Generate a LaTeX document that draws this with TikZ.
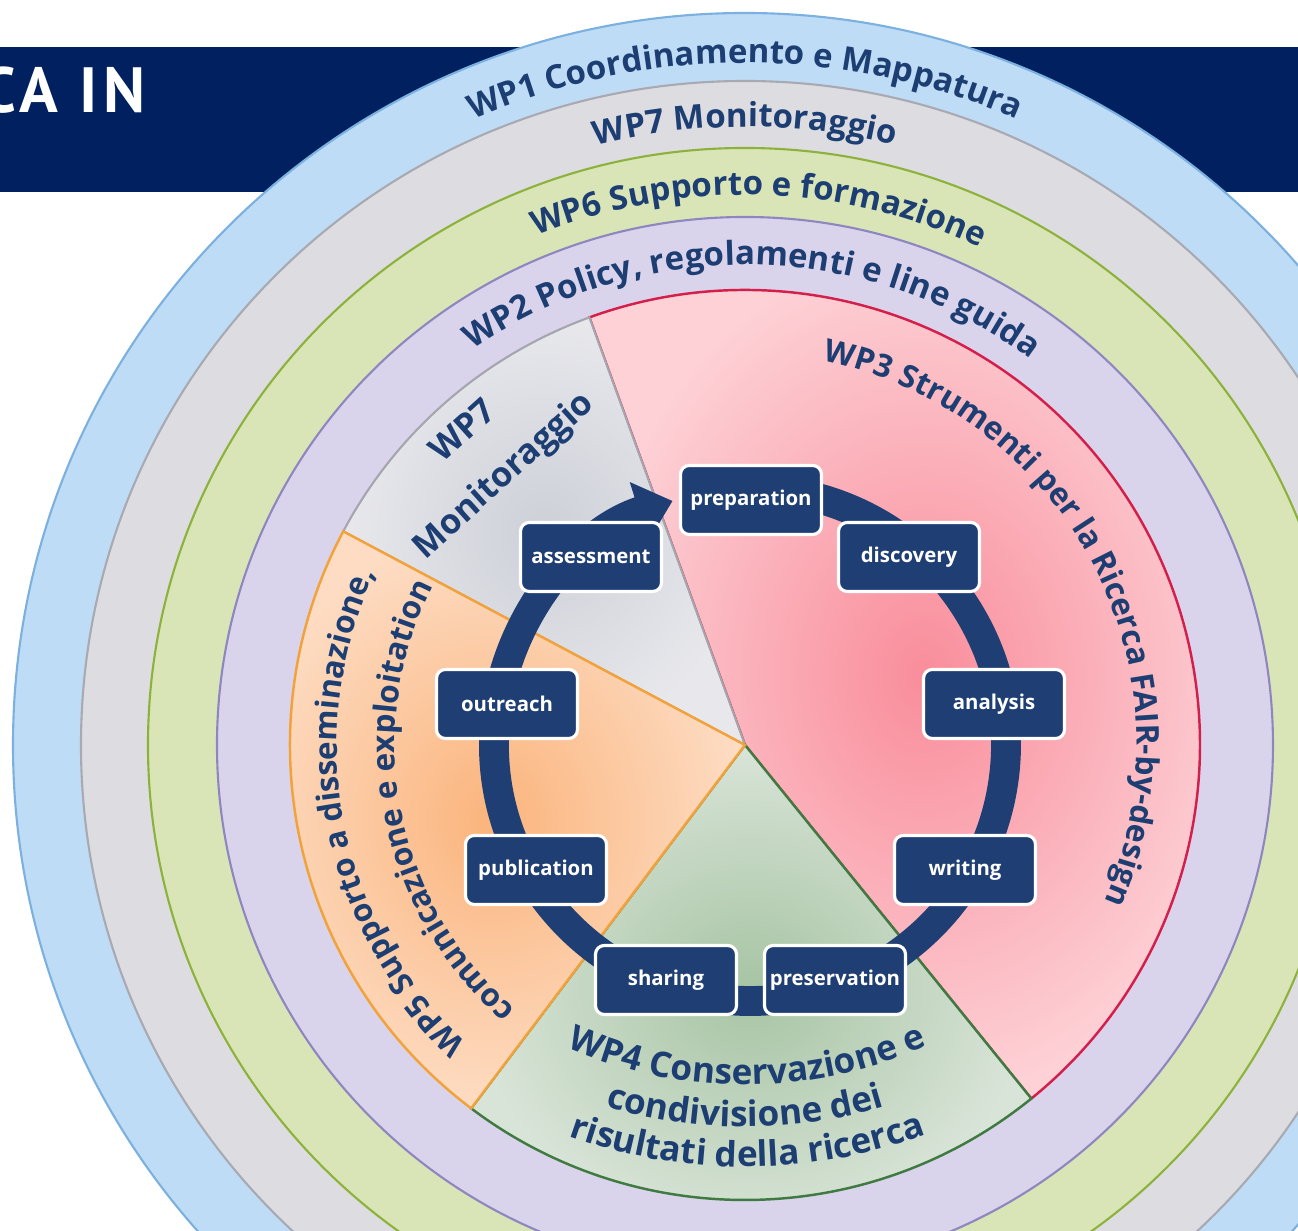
\documentclass[tikz,border=0pt]{standalone}
\usepackage{fontspec}
\setmainfont{Open Sans}
\newfontfamily\titlefam[LetterSpace=9]{PT Sans}
\usetikzlibrary{decorations.text, arrows.meta}

\definecolor{banner}{HTML}{00205F}
\definecolor{wpnavy}{HTML}{1D3E72}
\definecolor{boxnavy}{HTML}{1F3F74}
\definecolor{wpAfill}{HTML}{BEDCF6}
\definecolor{wpAline}{HTML}{7BB0DF}
\definecolor{wpBfill}{HTML}{DCDCE1}
\definecolor{wpBline}{HTML}{A9A9B2}
\definecolor{wpCfill}{HTML}{D9E5B6}
\definecolor{wpCline}{HTML}{8DB23B}
\definecolor{wpDfill}{HTML}{DAD3EC}
\definecolor{wpDline}{HTML}{8E87BF}
\definecolor{redin}{HTML}{F98D9B}
\definecolor{redout}{HTML}{FDD1D6}
\definecolor{redline}{HTML}{D51F4B}
\definecolor{grayin}{HTML}{CDD0D8}
\definecolor{grayout}{HTML}{E8E8EC}
\definecolor{grayline}{HTML}{A5A5AD}
\definecolor{orangein}{HTML}{FBB47C}
\definecolor{orangeout}{HTML}{FDDCC3}
\definecolor{orangeline}{HTML}{F2A23A}
\definecolor{greenin}{HTML}{A6C4A3}
\definecolor{greenout}{HTML}{D9E4D8}
\definecolor{greenline}{HTML}{3F7B41}

\newcommand{\ringfont}{\fontsize{9.4}{11}\selectfont\bfseries\color{wpnavy}}
\newcommand{\secfont}{\fontsize{9}{11}\selectfont\bfseries\color{wpnavy}}
\newcommand{\lowfont}{\fontsize{10}{12}\selectfont\bfseries\color{wpnavy}}
\newcommand{\titlefont}{\titlefam\bfseries\fontsize{18.2}{20}\selectfont}

\begin{document}
\begin{tikzpicture}[
	ringlabel/.style={decorate, decoration={text along path, text align=center, text={|\ringfont|#1}}},
	seclabel/.style={decorate, decoration={text along path, text align=center, text={|\secfont|#1}}},
	lowlabel/.style={decorate, decoration={text along path, text align=center, text={|\lowfont|#1}}},
	stage/.style={draw=white, line width=0.9pt, fill=boxnavy, rounded corners=2.5pt,
		minimum width=1.41cm, minimum height=0.69cm, inner sep=0pt,
		text=white, font=\fontsize{5.8}{7}\selectfont\bfseries}]
\useasboundingbox (-7.45,-4.86) rectangle (5.53,7.45);
\clip (-7.45,-4.86) rectangle (5.53,7.45);

% banner
\fill[banner] (-7.45,5.53) rectangle (5.53,6.98);
\node[anchor=base west, inner sep=0pt, text=white, font=\titlefont] (title) at (-7.65,6.32) {CA IN};

% rings
\coordinate (hub) at (0,0);
\filldraw[fill=wpAfill, draw=wpAline, line width=0.6pt] (hub) circle (7.32);
\filldraw[fill=wpBfill, draw=wpBline, line width=0.6pt] (hub) circle (6.64);
\filldraw[fill=wpCfill, draw=wpCline, line width=0.6pt] (hub) circle (5.97);
\filldraw[fill=wpDfill, draw=wpDline, line width=0.6pt] (hub) circle (5.28);

% sectors
\shadedraw[inner color=redin, outer color=redout, draw=redline, line width=0.7pt]
	(hub) -- (-51:4.55) arc[start angle=-51, end angle=110, radius=4.55] -- cycle;
\shadedraw[inner color=grayin, outer color=grayout, draw=grayline, line width=0.6pt]
	(hub) -- (110:4.55) arc[start angle=110, end angle=152, radius=4.55] -- cycle;
\shadedraw[inner color=greenin, outer color=greenout, draw=greenline, line width=0.7pt]
	(hub) -- (233:4.55) arc[start angle=233, end angle=309, radius=4.55] -- cycle;
\shadedraw[inner color=orangein, outer color=orangeout, draw=orangeline, line width=0.7pt]
	(hub) -- (152:4.55) arc[start angle=152, end angle=233, radius=4.55] -- cycle;

% ring texts
\path[ringlabel={WP1 Coordinamento e Mappatura}] (150:6.82) arc[start angle=150, end angle=30, radius=6.82];
\path[ringlabel={WP7 Monitoraggio}] (150:6.18) arc[start angle=150, end angle=30, radius=6.18];
\path[ringlabel={WP6 Supporto e formazione}] (148.5:5.50) arc[start angle=148.5, end angle=28.5, radius=5.50];
\path[ringlabel={WP2 Policy{,} regolamenti e line guida}] (149:4.80) arc[start angle=149, end angle=29, radius=4.80];

% sector texts
\path[seclabel={WP3 Strumenti per la Ricerca FAIR-by-design}] (99:3.92) arc[start angle=99, end angle=-44, radius=3.92];
\path[seclabel={WP5 Supporto a disseminazione{,}}] (250:4.08) arc[start angle=250, end angle=132, radius=4.08];
\path[seclabel={comunicazione e exploitation}] (250:3.50) arc[start angle=250, end angle=132, radius=3.50];
\path[lowlabel={WP4 Conservazione e}, shift={(0,1)}] (230.3:4.40) arc[start angle=230.3, end angle=310.3, radius=4.40];
\path[lowlabel={condivisione dei}, shift={(0,1)}] (230:4.82) arc[start angle=230, end angle=310, radius=4.82];
\path[lowlabel={risultati della ricerca}, shift={(0,1)}] (230.3:5.22) arc[start angle=230.3, end angle=310.3, radius=5.22];
\node[rotate=42, align=center, font=\fontsize{9.8}{17}\selectfont\bfseries, text=wpnavy] (wp7in) at (-2.60,2.90) {WP7\\Monitoraggio};

% research cycle
\coordinate (cyc) at (0.05,0);
\draw[line width=8.5pt, boxnavy, -{Triangle[length=10pt, width=17pt]}]
	(cyc) ++(80:2.56) arc[start angle=80, end angle=-252.4, radius=2.56];

\node[stage] (prep) at (0.06,2.45) {preparation};
\node[stage] (disc) at (1.64,1.88) {discovery};
\node[stage] (anal) at (2.49,0.41) {analysis};
\node[stage] (writ) at (2.20,-1.25) {writing};
\node[stage] (pres) at (0.90,-2.35) {preservation};
\node[stage] (shar) at (-0.79,-2.35) {sharing};
\node[stage] (publ) at (-2.09,-1.25) {publication};
\node[stage] (outr) at (-2.38,0.41) {outreach};
\node[stage] (asse) at (-1.54,1.88) {assessment};
\end{tikzpicture}
\end{document}
